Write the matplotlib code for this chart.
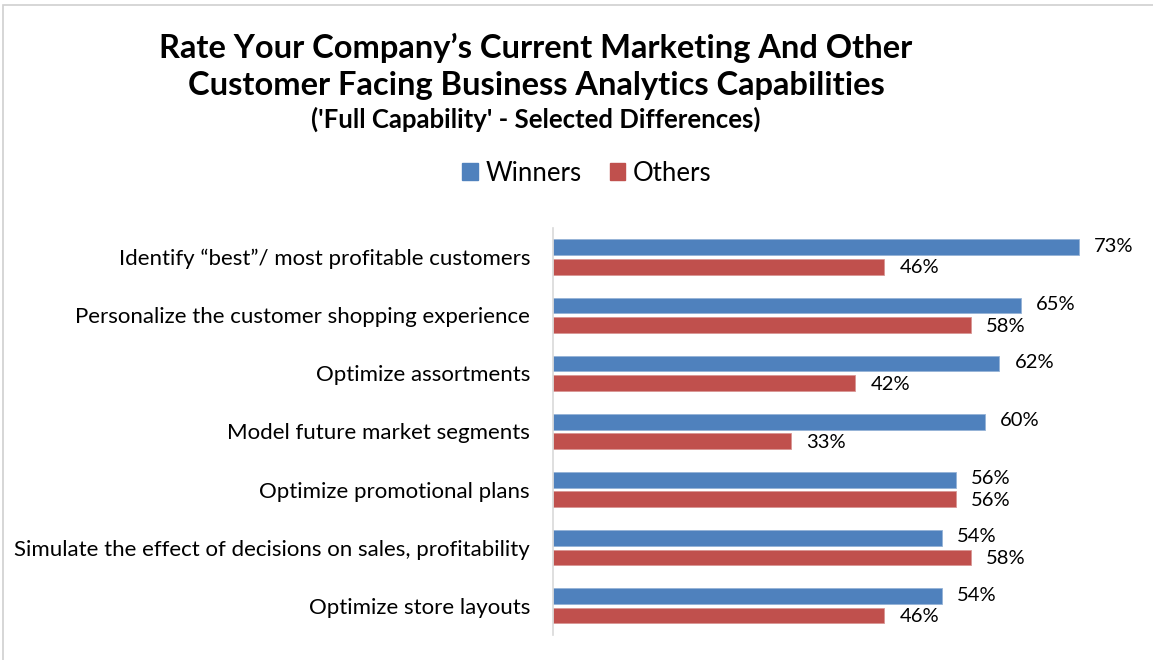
import matplotlib
matplotlib.use("Agg")
import matplotlib.pyplot as plt
import numpy as np
from matplotlib.patches import Rectangle, Patch

categories = [
    "Identify \u201cbest\u201d/ most profitable customers",
    "Personalize the customer shopping experience",
    "Optimize assortments",
    "Model future market segments",
    "Optimize promotional plans",
    "Simulate the effect of decisions on sales, profitability",
    "Optimize store layouts",
]
winners = [73, 65, 62, 60, 56, 54, 54]
others = [46, 58, 42, 33, 56, 58, 46]
series_names = ["Winners", "Others"]

BLUE = "#4F81BD"
RED = "#C0504D"

plt.rcParams["font.family"] = ["Lato", "DejaVu Sans"]

fig = plt.figure(figsize=(11.53, 6.6), dpi=100)
ax = fig.add_axes([0.4796, 0.0379, 0.4996, 0.6167])

y = np.arange(len(categories))
h = 0.27
off = 0.167
ax.barh(y - off, winners, height=h, color=BLUE, edgecolor="#95B3D7", linewidth=0.6)
ax.barh(y + off, others, height=h, color=RED, edgecolor="#D99694", linewidth=0.6)

for yi, v in zip(y, winners):
    ax.text(v + 2.1, yi - off - 0.02, f"{v}%", va="center", ha="left", fontsize=14.5, clip_on=False)
for yi, v in zip(y, others):
    ax.text(v + 2.1, yi + off + 0.02, f"{v}%", va="center", ha="left", fontsize=14.5, clip_on=False)

ax.set_xlim(0, 80)
ax.set_ylim(len(categories) - 0.5, -0.5)
ax.set_yticks(y)
ax.set_yticklabels(categories, fontsize=16)
ax.tick_params(axis="y", length=0, pad=16.5)
ax.set_xticks([])
for s in ["top", "right", "bottom"]:
    ax.spines[s].set_visible(False)
ax.spines["left"].set_color("#D9D9D9")
ax.spines["left"].set_linewidth(1.2)

fig.text(536 / 1153, 1 - 48 / 660, "Rate Your Company\u2019s Current Marketing And Other",
         ha="center", va="center", fontsize=23.5, fontweight="bold")
fig.text(536 / 1153, 1 - 86 / 660, "Customer Facing Business Analytics Capabilities",
         ha="center", va="center", fontsize=23.5, fontweight="bold")
fig.text(536 / 1153, 1 - 119 / 660, "('Full Capability' - Selected Differences)",
         ha="center", va="center", fontsize=18.5, fontweight="bold")

handles = [Patch(color=BLUE), Patch(color=RED)]
fig.legend(handles, series_names, loc="center", bbox_to_anchor=(587 / 1153, 1 - 173 / 660),
           ncol=2, frameon=False, fontsize=18.5, handlelength=0.6, handleheight=0.6,
           handletextpad=0.3, columnspacing=1.1)

fig.patches.append(Rectangle((3 / 1153, -0.1), 1.2, 1 - 5 / 660 + 0.1, transform=fig.transFigure,
                             fill=False, edgecolor="#D0D0D0", linewidth=1.2))

fig.savefig("out.png", dpi=100)
